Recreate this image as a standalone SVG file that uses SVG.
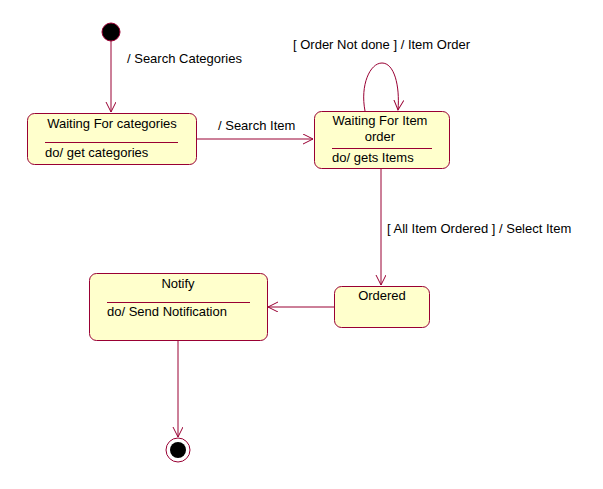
<svg xmlns="http://www.w3.org/2000/svg" width="603" height="489" viewBox="0 0 603 489">
<style>
.st{fill:#ffffcc;stroke:#990033;stroke-width:1}
.ln{fill:none;stroke:#990033;stroke-width:1}
text{font-family:"Liberation Sans",Arial,sans-serif;font-size:13px;fill:#000}
.c{text-anchor:middle}
</style>
<defs>
<marker id="arr" markerWidth="12" markerHeight="12" refX="10" refY="5" orient="auto" markerUnits="userSpaceOnUse">
<path d="M0,0 L10,5 L0,10" fill="none" stroke="#990033" stroke-width="1"/>
</marker>
</defs>
<rect width="603" height="489" fill="#fff"/>
<g id="connectors">
<line class="ln" x1="111" y1="41" x2="111" y2="112" marker-end="url(#arr)"/>
<text x="127" y="63">/ Search Categories</text>
<line class="ln" x1="196" y1="139" x2="313" y2="139" marker-end="url(#arr)"/>
<text x="218" y="130">/ Search Item</text>
<path class="ln" d="M365,111 C360,85 370,63 382,63 C394,63 400,85 398,110" marker-end="url(#arr)"/>
<text x="293" y="49">[ Order Not done ] / Item Order</text>
<line class="ln" x1="381" y1="168" x2="381" y2="285" marker-end="url(#arr)"/>
<text x="387" y="233">[ All Item Ordered ] / Select Item</text>
<line class="ln" x1="334" y1="307" x2="268" y2="307" marker-end="url(#arr)"/>
<line class="ln" x1="178" y1="340" x2="178" y2="437" marker-end="url(#arr)"/>
</g>
<g id="initial">
<circle cx="111" cy="32" r="9" fill="#000" stroke="#990033"/>
</g>
<g id="waiting-categories">
<rect class="st" x="27.5" y="113.5" width="169" height="51" rx="7"/>
<text class="c" x="112" y="128">Waiting For categories</text>
<line class="ln" x1="45" y1="142.5" x2="178" y2="142.5"/>
<text x="45" y="157">do/ get categories</text>
</g>
<g id="waiting-item">
<rect class="st" x="314.5" y="111.5" width="135" height="57" rx="7"/>
<text class="c" x="380" y="125">Waiting For Item</text>
<text class="c" x="380" y="141">order</text>
<line class="ln" x1="332" y1="148.5" x2="432" y2="148.5"/>
<text x="332" y="162">do/ gets Items</text>
</g>
<g id="ordered">
<rect class="st" x="334.5" y="286.5" width="95" height="41" rx="7"/>
<text class="c" x="382" y="300">Ordered</text>
</g>
<g id="notify">
<rect class="st" x="89.5" y="273.5" width="178" height="67" rx="7"/>
<text class="c" x="178" y="288">Notify</text>
<line class="ln" x1="107" y1="302.5" x2="250" y2="302.5"/>
<text x="107" y="316">do/ Send Notification</text>
</g>
<g id="final">
<circle cx="178" cy="450" r="12" fill="#fff" stroke="#990033"/>
<circle cx="178" cy="450" r="8" fill="#000"/>
</g>
</svg>
